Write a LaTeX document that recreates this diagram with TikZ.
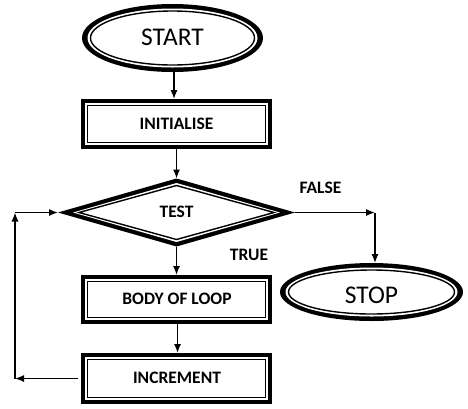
\documentclass[tikz,border=0pt]{standalone}
\usepackage{fontspec}
\setmainfont{Carlito}
\usetikzlibrary{shapes.geometric, arrows.meta}
\begin{document}
\begin{tikzpicture}[x=1pt, y=-1pt,
  outerfill/.style={fill=black, draw=none, inner sep=0pt, outer sep=0pt},
  gapfill/.style={fill=white, draw=none, inner sep=0pt, outer sep=0pt},
  thinline/.style={draw=black, line width=1.4pt, inner sep=0pt, outer sep=0pt},
  bigtxt/.style={font=\fontsize{25.5}{30}\selectfont, inner sep=0pt},
  boldtxt/.style={font=\fontsize{17.5}{21}\selectfont\bfseries, inner sep=0pt},
  arr/.style={line width=1.3pt, -{Latex[length=9pt,width=7pt]}}
]
\fill[white] (0,0) rectangle (468,408);
\useasboundingbox (0,0) rectangle (468,408);

% START
\node[ellipse, outerfill, minimum width=181pt, minimum height=68pt] (start) at (172.5,38) {};
\node[ellipse, gapfill, minimum width=170pt, minimum height=59pt] (startg) at (start.center) {};
\node[ellipse, thinline, minimum width=164pt, minimum height=54pt] (starti) at (start.center) {};
\node[bigtxt] (startt) at (172.5,37) {START};

% INITIALISE
\node[rectangle, outerfill, minimum width=191pt, minimum height=50pt] (init) at (176.5,124) {};
\node[rectangle, gapfill, minimum width=183pt, minimum height=42pt] (initg) at (init.center) {};
\node[rectangle, thinline, minimum width=177.5pt, minimum height=36.5pt] (initi) at (init.center) {};
\node[boldtxt] (initt) at (176.5,124) {INITIALISE};

% TEST
\node[diamond, outerfill, minimum width=237pt, minimum height=68pt] (test) at (176.5,212.5) {};
\node[diamond, gapfill, minimum width=207pt, minimum height=59pt] (testg) at (test.center) {};
\node[diamond, thinline, minimum width=195pt, minimum height=54pt] (testi) at (test.center) {};
\node[boldtxt] (testt) at (176.5,212) {TEST};

% BODY OF LOOP
\node[rectangle, outerfill, minimum width=191pt, minimum height=49pt] (body) at (176.5,299.5) {};
\node[rectangle, gapfill, minimum width=183pt, minimum height=41pt] (bodyg) at (body.center) {};
\node[rectangle, thinline, minimum width=177.5pt, minimum height=35.5pt] (bodyi) at (body.center) {};
\node[boldtxt] (bodyt) at (177,299) {BODY OF LOOP};

% INCREMENT
\node[rectangle, outerfill, minimum width=191pt, minimum height=51pt] (incr) at (176.5,378.5) {};
\node[rectangle, gapfill, minimum width=183pt, minimum height=43pt] (incrg) at (incr.center) {};
\node[rectangle, thinline, minimum width=177.5pt, minimum height=37.5pt] (incri) at (incr.center) {};
\node[boldtxt] (incrt) at (177,377.5) {INCREMENT};

% STOP
\node[ellipse, outerfill, minimum width=183pt, minimum height=58pt] (stop) at (371.5,292) {};
\node[ellipse, gapfill, minimum width=172pt, minimum height=49pt] (stopg) at (stop.center) {};
\node[ellipse, thinline, minimum width=166pt, minimum height=44pt] (stopi) at (stop.center) {};
\node[bigtxt] (stopt) at (371.5,295) {STOP};

% labels
\node[boldtxt] (falselbl) at (320.5,188) {FALSE};
\node[boldtxt] (truelbl) at (249,255) {TRUE};

% connectors
\coordinate (lb) at (15,378.5);
\coordinate (lt) at (15,212.5);
\coordinate (fr) at (375,212.5);

\draw[arr] ([xshift=1.5pt]start.south) -- ([xshift=1.5pt]start.south |- init.north);
\draw[arr] (init.south) -- (test.north);
\draw[arr] (test.south) -- (body.north);
\draw[arr] ([xshift=1pt]body.south) -- ([xshift=1pt]incr.north);
\draw[arr] ([xshift=-3pt]incr.west) -- (lb);
\draw[arr] (lb) -- (lt);
\draw[arr] (lt) -- (test.west);
\draw[arr] (test.east) -- (fr);
\draw[arr] (fr) -- (fr |- stop.north);
\end{tikzpicture}
\end{document}
